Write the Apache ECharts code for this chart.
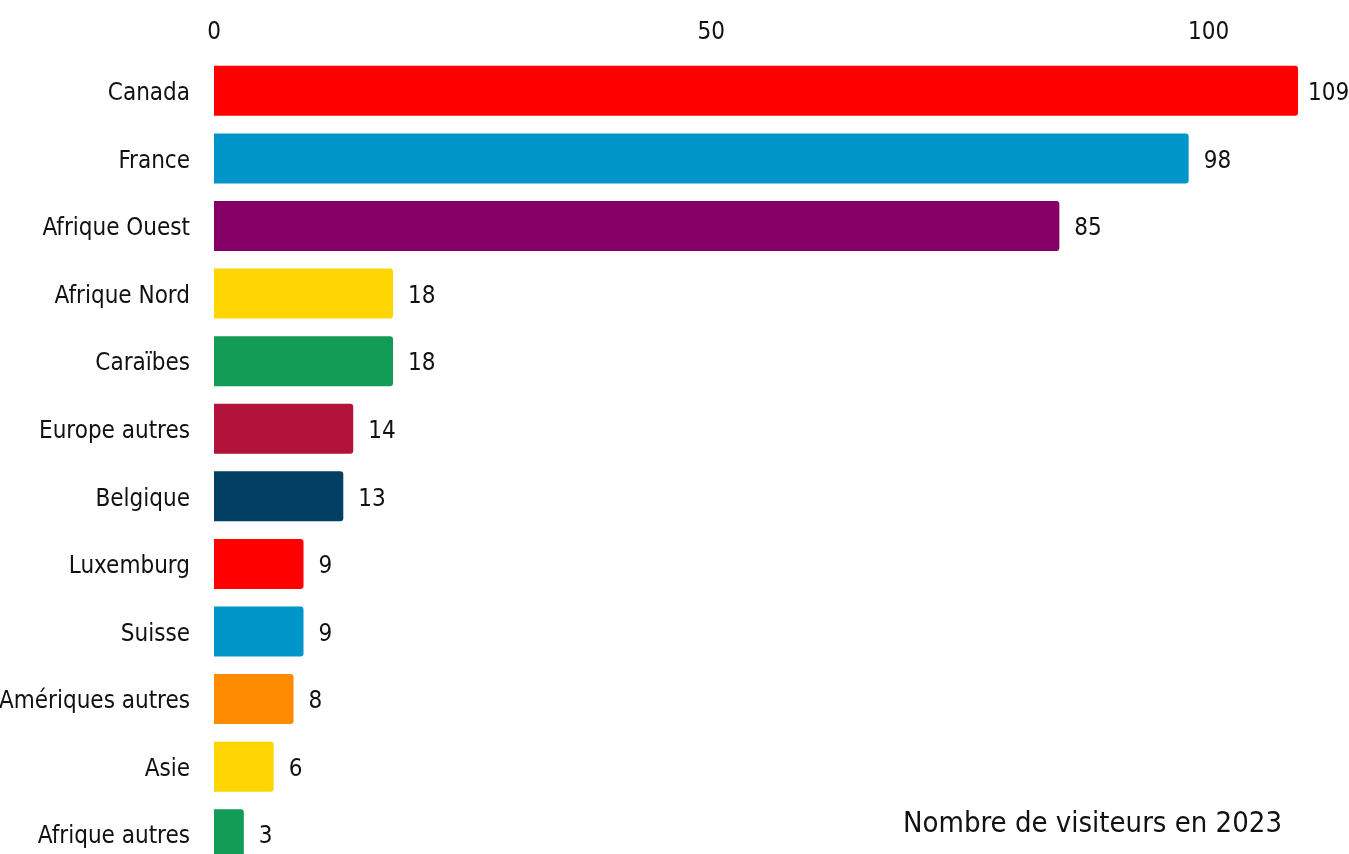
<!DOCTYPE html>
<html>
<head>
<meta charset="utf-8">
<script src="https://cdn.jsdelivr.net/npm/echarts@6/dist/echarts.min.js"></script>
<style>
  html, body { margin: 0; padding: 0; background: #fff; }
  #chart { width: 1349px; height: 854px; }
</style>
</head>
<body>
<div id="chart"></div>
<script>
var regions = ['Canada', 'France', 'Afrique Ouest', 'Afrique Nord', 'Caraïbes', 'Europe autres',
    'Belgique', 'Luxemburg', 'Suisse', 'Amériques autres', 'Asie', 'Afrique autres'];
var visitors = [109, 98, 85, 18, 18, 14, 13, 9, 9, 8, 6, 3];
var barColors = ['#ff0000', '#0095c8', '#850066', '#ffd500', '#129c55', '#b2133a',
    '#023f63', '#ff0000', '#0095c8', '#ff8c00', '#ffd500', '#129c55'];
var tickValues = [0, 50, 100];

var FONT = '"Liberation Sans Narrow", "DejaVu Sans Condensed", sans-serif';

var chart = echarts.init(document.getElementById('chart'));

var option = {
    backgroundColor: '#fff',
    animation: false,
    title: {
        text: 'Nombre de visiteurs en 2023',
        right: 62,
        top: 805,
        textStyle: {
            fontFamily: FONT,
            fontSize: 29,
            fontWeight: 'normal',
            color: '#111'
        }
    },
    grid: {
        left: 214,
        right: 41,
        top: 57,
        height: 811,
        outerBoundsMode: 'none',
        containLabel: false
    },
    xAxis: {
        type: 'value',
        position: 'top',
        min: 0,
        max: 110,
        interval: 50,
        axisLine: { show: false },
        axisTick: { show: false },
        splitLine: { show: false },
        axisLabel: {
            margin: 12,
            fontFamily: FONT,
            fontSize: 24,
            color: '#111',
            formatter: function (v) {
                return tickValues.indexOf(v) >= 0 ? String(v) : '';
            }
        }
    },
    yAxis: {
        type: 'category',
        inverse: true,
        data: regions,
        axisLine: { show: false },
        axisTick: { show: false },
        axisLabel: {
            margin: 24,
            formatter: function (v) { return '{n|' + v + '}'; },
            rich: {
                n: {
                    padding: [6, 0, 0, 0],
                    fontFamily: FONT,
                    fontSize: 24,
                    color: '#111'
                }
            }
        }
    },
    series: [{
        type: 'bar',
        barWidth: 50,
        data: visitors.map(function (v, i) {
            var item = { value: v, itemStyle: { color: barColors[i] } };
            if (v > 105) {
                item.label = { distance: 10 };
            }
            return item;
        }),
        itemStyle: {
            borderRadius: [0, 3, 3, 0]
        },
        label: {
            show: true,
            position: 'right',
            distance: 15,
            offset: [0, 3],
            fontFamily: FONT,
            fontSize: 24,
            color: '#111'
        }
    }]
};

chart.setOption(option);
</script>
</body>
</html>
